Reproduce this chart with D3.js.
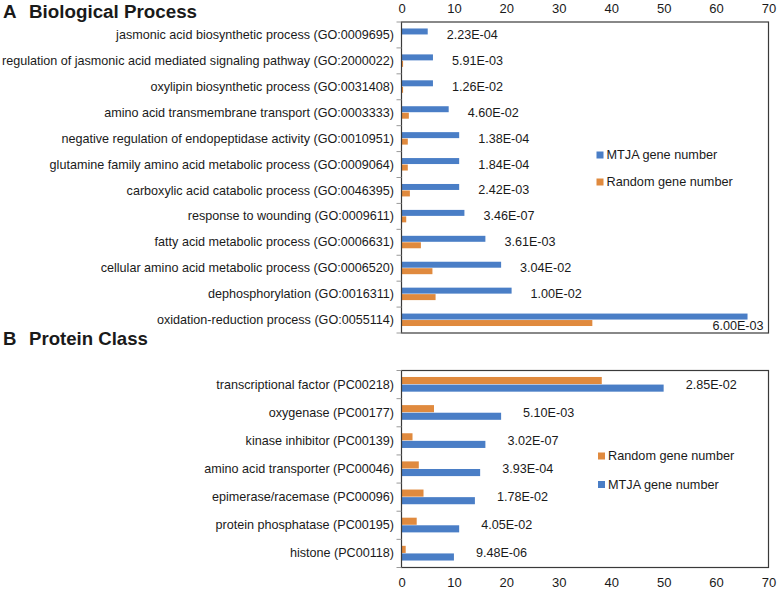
<!DOCTYPE html>
<html><head><meta charset="utf-8">
<script src="https://cdn.jsdelivr.net/npm/d3@7"></script>
<style>
html,body{margin:0;padding:0;background:#fff;}
svg{display:block;font-family:"Liberation Sans",Arial,sans-serif;}
</style></head>
<body>
<svg id="chart" width="777" height="589"></svg>
<script>
// ---------- Data ----------
const bpCategories = [
  "jasmonic acid biosynthetic process (GO:0009695)",
  "regulation of jasmonic acid mediated signaling pathway (GO:2000022)",
  "oxylipin biosynthetic process (GO:0031408)",
  "amino acid transmembrane transport (GO:0003333)",
  "negative regulation of endopeptidase activity (GO:0010951)",
  "glutamine family amino acid metabolic process (GO:0009064)",
  "carboxylic acid catabolic process (GO:0046395)",
  "response to wounding (GO:0009611)",
  "fatty acid metabolic process (GO:0006631)",
  "cellular amino acid metabolic process (GO:0006520)",
  "dephosphorylation (GO:0016311)",
  "oxidation-reduction process (GO:0055114)"
];
const bpMTJA   = [5, 6, 6, 9, 11, 11, 11, 12, 16, 19, 21, 66];
const bpRandom = [0, 0.3, 0.3, 1.4, 1.2, 1.2, 1.6, 0.9, 3.7, 5.9, 6.5, 36.4];
const bpPvalues = ["2.23E-04","5.91E-03","1.26E-02","4.60E-02","1.38E-04","1.84E-04",
                   "2.42E-03","3.46E-07","3.61E-03","3.04E-02","1.00E-02","6.00E-03"];

const pcCategories = [
  "transcriptional factor (PC00218)",
  "oxygenase (PC00177)",
  "kinase inhibitor (PC00139)",
  "amino acid transporter (PC00046)",
  "epimerase/racemase (PC00096)",
  "protein phosphatase (PC00195)",
  "histone (PC00118)"
];
const pcMTJA   = [50, 19, 16, 15, 14, 11, 10];
const pcRandom = [38.2, 6.2, 2.1, 3.3, 4.2, 2.9, 0.8];
const pcPvalues = ["2.85E-02","5.10E-03","3.02E-07","3.93E-04","1.78E-02","4.05E-02","9.48E-06"];

const xTicks = [0, 10, 20, 30, 40, 50, 60, 70];
const seriesNames = {mtja: "MTJA gene number", random: "Random gene number"};

// ---------- Style ----------
const BLUE = "#4a7ec6", ORANGE = "#e08a3e", TEXT = "#1a1a1a";
const FONT = 12.6;
const svg = d3.select("#chart");

const x = d3.scaleLinear().domain([0, 70]).range([401.5, 768.5]);

function panel(opt) {
  const g = svg.append("g");
  const y = d3.scaleBand().domain(opt.categories).range([opt.top, opt.bottom]);
  const bw = y.bandwidth();
  const bh = bw * opt.barFrac;
  const rows = opt.categories.map((c, i) => ({c, m: opt.mtja[i], r: opt.random[i], p: opt.pvals[i]}));

  // title
  const t = g.append("text").attr("x", 3).attr("y", opt.titleY)
    .attr("font-weight", "bold").attr("font-size", opt.titleSize).attr("fill", TEXT);
  t.append("tspan").text(opt.letter);
  t.append("tspan").attr("x", 29).text(opt.title);

  // bars
  rows.forEach(d => {
    const yc = y(d.c) + bw / 2;
    const top = yc - bh;
    const order = opt.orangeFirst ? [["r", ORANGE], ["m", BLUE]] : [["m", BLUE], ["r", ORANGE]];
    order.forEach(([k, col], j) => {
      g.append("rect")
        .attr("x", x(0)).attr("y", top + j * bh)
        .attr("width", Math.max(0, x(d[k]) - x(0))).attr("height", bh - 0.5)
        .attr("fill", col);
    });
  });

  // p-value labels
  rows.forEach(d => {
    const yc = y(d.c) + bw / 2;
    const tx = g.append("text").attr("font-size", FONT).attr("fill", TEXT)
      .attr("dominant-baseline", "central").text(d.p);
    let lx = x(d.m) + opt.labelGap;
    const w = tx.node().getComputedTextLength();
    if (lx + w > x(70) - 4) {
      tx.attr("text-anchor", "end").attr("x", x(70) - 5).attr("y", yc + opt.clampDy);
    } else {
      tx.attr("x", lx).attr("y", yc);
    }
  });

  // frame
  g.append("rect").attr("x", x(0)).attr("y", opt.top)
    .attr("width", x(70) - x(0)).attr("height", opt.bottom - opt.top)
    .attr("fill", "none").attr("stroke", "#3a3a3a").attr("stroke-width", 1.2);

  // y axis labels
  const yAxis = d3.axisLeft(y).tickSize(0).tickPadding(7.5);
  const ya = g.append("g").attr("transform", `translate(${x(0)},0)`).call(yAxis);
  ya.select(".domain").remove();
  ya.selectAll("text").attr("font-size", FONT).attr("fill", TEXT)
    .attr("font-family", "'Liberation Sans',Arial,sans-serif");
  // boundary ticks
  const bounds = opt.categories.map(c => y(c)).concat([opt.bottom]);
  g.selectAll(null).data(bounds).enter().append("line")
    .attr("x1", x(0) - 5).attr("x2", x(0)).attr("y1", d => d).attr("y2", d => d)
    .attr("stroke", "#9a9a9a").attr("stroke-width", 1);

  // x axis
  const axis = opt.axisTop ? d3.axisTop(x) : d3.axisBottom(x);
  axis.tickValues(xTicks).tickSize(0).tickPadding(opt.axisTop ? 9 : 10);
  const xa = g.append("g").attr("transform", `translate(0,${opt.axisTop ? opt.top : opt.bottom})`).call(axis);
  xa.select(".domain").remove();
  xa.selectAll("text").attr("font-size", 13).attr("fill", TEXT)
    .attr("font-family", "'Liberation Sans',Arial,sans-serif");

  // legend
  opt.legend.forEach((k, i) => {
    const ly = opt.legendY + i * opt.legendStep;
    g.append("rect").attr("x", opt.legendX).attr("y", ly - 3.5).attr("width", 7).attr("height", 7)
      .attr("fill", k === "mtja" ? BLUE : ORANGE);
    g.append("text").attr("x", opt.legendX + 10).attr("y", ly)
      .attr("dominant-baseline", "central").attr("font-size", 12.7).attr("fill", TEXT)
      .text(seriesNames[k]);
  });
}

panel({
  letter: "A", title: "Biological Process", titleY: 18, titleSize: 18.8,
  categories: bpCategories, mtja: bpMTJA, random: bpRandom, pvals: bpPvalues,
  top: 22, bottom: 333, barFrac: 0.25, orangeFirst: false, labelGap: 19, clampDy: 6,
  axisTop: true, legend: ["mtja", "random"], legendX: 596.5, legendY: 155, legendStep: 27
});

panel({
  letter: "B", title: "Protein Class", titleY: 345, titleSize: 18.6,
  categories: pcCategories, mtja: pcMTJA, random: pcRandom, pvals: pcPvalues,
  top: 370.5, bottom: 567.5, barFrac: 0.27, orangeFirst: true, labelGap: 22, clampDy: 0,
  axisTop: false, legend: ["random", "mtja"], legendX: 598, legendY: 456, legendStep: 28.5
});
</script>
</body></html>
